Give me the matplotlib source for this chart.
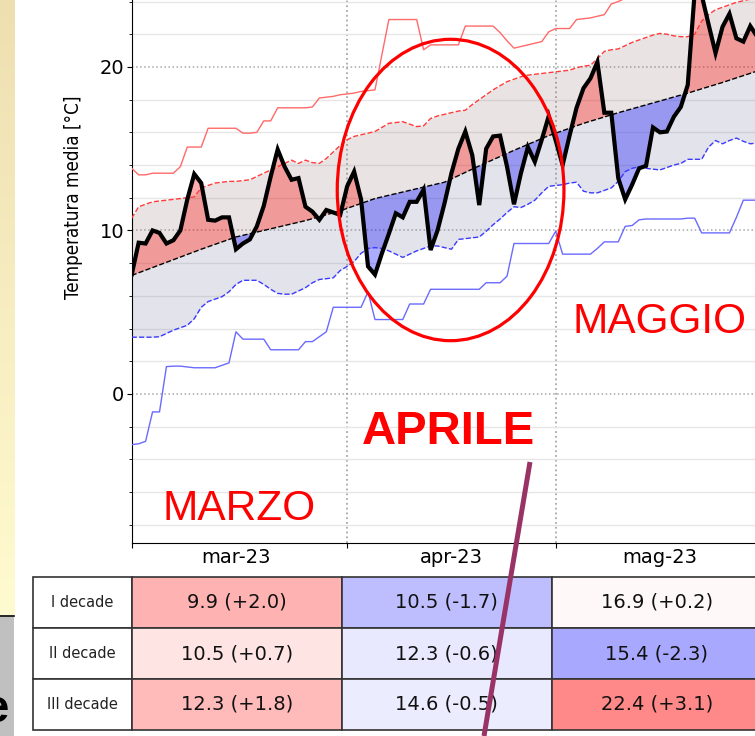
import numpy as np
import pandas as pd
import matplotlib
matplotlib.use('Agg')
from matplotlib import pyplot as plt
import matplotlib.dates as mdates
from matplotlib import font_manager
from matplotlib.ticker import MultipleLocator, NullFormatter, FuncFormatter
from matplotlib.patches import Ellipse, Rectangle
from matplotlib.lines import Line2D
from matplotlib.colors import LinearSegmentedColormap, Normalize

# daily values, 1 Mar 2023 -> 31 May 2023
days = pd.date_range('2023-03-01', '2023-05-31', freq='D')

t_obs = [7.3, 9.25, 9.2, 10.0, 9.85, 9.2, 9.4, 10.0, 11.9, 13.45, 12.9, 10.65, 10.6, 10.8, 10.8, 8.85,
         9.2, 9.45, 10.25, 11.5, 13.3, 14.95, 13.9, 13.1, 13.2, 11.45, 11.15, 10.65, 11.25, 11.1, 10.95,
         12.7, 13.6, 11.9, 7.8, 7.3, 8.6, 9.8, 11.05, 10.8, 11.75, 11.75, 12.5, 8.8, 10.0, 11.65,
         13.5, 15.0, 16.05, 14.6, 11.55, 15.0, 15.75, 15.8, 13.9, 11.6, 13.5, 15.1, 14.2, 15.55, 17.0,
         15.5, 14.0, 15.8, 17.5, 18.7, 19.3, 20.3, 17.2, 17.2, 13.2, 11.9, 12.8, 13.8, 13.95, 16.3,
         16.0, 16.05, 16.95, 17.55, 18.9, 24.6, 24.4, 22.6, 20.85, 22.45, 23.25, 21.75, 21.55, 22.5, 21.85, 22.3]

t_clim = [7.25, 7.41, 7.57, 7.73, 7.89, 8.05, 8.21, 8.37, 8.53, 8.69, 8.85, 9.0, 9.15, 9.3, 9.45, 9.6,
          9.7, 9.8, 9.9, 10.0, 10.1, 10.2, 10.3, 10.4, 10.5, 10.6, 10.72, 10.84, 10.96, 11.08, 11.2,
          11.35, 11.5, 11.65, 11.8, 11.95, 12.05, 12.15, 12.25, 12.35, 12.45, 12.55, 12.65, 12.75, 12.85, 12.95,
          13.15, 13.35, 13.55, 13.75, 13.95, 14.14, 14.33, 14.52, 14.71, 14.9, 15.08, 15.26, 15.44, 15.62, 15.8,
          15.95, 16.1, 16.25, 16.4, 16.55, 16.68, 16.81, 16.94, 17.07, 17.2, 17.32, 17.44, 17.56, 17.68, 17.8,
          17.92, 18.04, 18.16, 18.28, 18.4, 18.53, 18.66, 18.79, 18.92, 19.05, 19.19, 19.33, 19.47, 19.61, 19.75, 19.9]

t_upper = [10.75, 11.45, 11.6, 11.75, 11.8, 11.85, 11.9, 11.95, 12.0, 12.05, 12.6, 12.75, 12.9, 12.95, 13.0, 13.0,
           13.05, 13.1, 13.3, 13.5, 13.7, 13.9, 14.1, 14.3, 14.1, 14.3, 14.15, 14.1, 14.4, 14.8, 15.2,
           15.55, 15.75, 15.85, 15.95, 16.05, 16.3, 16.55, 16.6, 16.65, 16.5, 16.35, 16.4, 16.85, 17.0, 17.1,
           17.2, 17.3, 17.35, 17.7, 18.0, 18.3, 18.6, 18.85, 19.1, 19.25, 19.4, 19.5, 19.55, 19.6, 19.65,
           19.7, 19.75, 19.8, 19.95, 20.05, 20.1, 20.5, 20.95, 21.05, 21.1, 21.3, 21.5, 21.65, 21.8, 21.95,
           22.05, 22.0, 21.9, 21.85, 21.85, 22.0, 22.8, 23.2, 23.5, 23.65, 23.8, 23.95, 24.05, 24.15, 24.3, 24.45]

t_lower = [3.47, 3.47, 3.47, 3.47, 3.5, 3.7, 3.9, 4.05, 4.2, 4.6, 5.3, 5.65, 5.8, 5.95, 6.25, 6.7,
           6.95, 6.95, 6.95, 6.7, 6.4, 6.15, 6.1, 6.1, 6.3, 6.5, 6.8, 7.0, 7.05, 7.1, 7.55,
           7.8, 8.1, 8.6, 8.9, 8.95, 8.9, 8.75, 8.55, 8.35, 8.55, 8.75, 8.9, 9.05, 9.05, 8.95,
           8.85, 9.45, 9.5, 9.55, 9.6, 9.95, 10.35, 10.7, 11.1, 11.45, 11.4, 11.6, 11.85, 12.3, 12.7,
           12.75, 12.8, 12.9, 12.95, 12.4, 12.3, 12.3, 12.45, 12.6, 13.0, 13.6, 13.8, 13.9, 13.8, 13.75,
           13.7, 13.85, 14.0, 14.1, 14.35, 14.35, 14.35, 15.1, 15.5, 15.3, 15.5, 15.65, 15.45, 15.3, 15.35, 15.4]

t_max_rec = [13.8, 13.4, 13.4, 13.5, 13.5, 13.5, 13.5, 13.9, 15.1, 15.1, 15.1, 16.25, 16.25, 16.25, 16.25, 16.25,
             15.95, 15.95, 16.0, 16.7, 16.7, 17.5, 17.5, 17.5, 17.5, 17.5, 17.55, 18.1, 18.15, 18.2, 18.3,
             18.35, 18.4, 18.5, 18.55, 18.6, 20.75, 22.9, 22.9, 22.9, 22.9, 22.9, 21.05, 21.35, 21.35, 21.35,
             21.35, 21.35, 22.5, 22.5, 22.5, 22.5, 22.5, 22.1, 21.6, 21.15, 21.25, 21.35, 21.45, 21.55, 22.15,
             22.35, 22.35, 22.35, 22.9, 22.95, 23.0, 23.1, 23.2, 23.85, 24.0, 24.2, 24.5, 24.7, 24.9, 25.0,
             25.1, 25.3, 25.5, 25.6, 25.8, 26.0, 26.1, 26.3, 26.4, 26.5, 26.6, 26.8, 26.9, 27.0, 27.1, 27.2]

t_min_rec = [-3.1, -3.05, -2.9, -1.1, -1.1, 1.67, 1.7, 1.7, 1.65, 1.6, 1.6, 1.6, 1.6, 1.75, 1.9, 3.8,
             3.35, 3.35, 3.35, 3.35, 2.7, 2.7, 2.7, 2.7, 2.7, 3.2, 3.2, 3.5, 3.8, 5.3, 5.3,
             5.3, 5.3, 5.3, 6.25, 4.55, 4.55, 4.55, 4.55, 4.55, 5.5, 5.5, 5.5, 6.4, 6.4, 6.4,
             6.4, 6.4, 6.4, 6.4, 6.4, 6.8, 6.8, 6.8, 7.2, 9.2, 9.2, 9.2, 9.2, 9.2, 9.2,
             9.95, 8.55, 8.55, 8.55, 8.55, 8.55, 8.9, 9.3, 9.3, 9.3, 10.25, 10.3, 10.65, 10.7, 10.7,
             10.7, 10.7, 10.7, 10.7, 10.75, 10.75, 9.85, 9.85, 9.85, 9.85, 9.85, 10.8, 11.85, 11.85, 11.85, 11.85]

# decade table (columns: mar, apr, mag)
month_names = {3: 'mar', 4: 'apr', 5: 'mag'}
decade_labels = ['I decade', 'II decade', 'III decade']
decade_mean = [[9.9, 10.5, 12.3], [10.5, 12.3, 14.6], [16.9, 15.4, 22.4]]
decade_anom = [[2.0, 0.7, 1.8], [-1.7, -0.6, -0.5], [0.2, -2.3, 3.1]]

# narrow font for the y label, if one is around
fonts = font_manager.fontManager.ttflist
if any(f.name == 'Liberation Sans Narrow' for f in fonts):
    ylab_font = dict(family='Liberation Sans Narrow', fontsize=15)
elif any(f.name == 'DejaVu Sans' and f.stretch == 'condensed' for f in fonts):
    ylab_font = dict(family='DejaVu Sans', fontstretch='condensed', fontsize=13.5)
else:
    ylab_font = dict(family='DejaVu Sans', fontsize=12)

W, H = 755, 736
fig = plt.figure(figsize=(W / 100, H / 100), dpi=100)
fig.patch.set_facecolor('white')

ax = fig.add_axes([131.7 / W, (H - 542.7) / H, 632.5 / W, 590.2 / H])
x = mdates.date2num(days)
obs = np.array(t_obs)
clim = np.array(t_clim)
upper = np.array(t_upper)
lower = np.array(t_lower)

ax.fill_between(x, clim, upper, color=(0.6, 0.45, 0.45), alpha=0.2, lw=0, zorder=1)
ax.fill_between(x, lower, clim, color=(0.45, 0.47, 0.62), alpha=0.2, lw=0, zorder=1)
ax.fill_between(x, clim, obs, where=obs >= clim, interpolate=True, color='red', alpha=0.32, lw=0, zorder=2)
ax.fill_between(x, clim, obs, where=obs <= clim, interpolate=True, color='blue', alpha=0.33, lw=0, zorder=2)

ax.plot(x, t_max_rec, color='#ff6a6a', lw=1.0, zorder=3)
ax.plot(x, t_min_rec, color='#6a6aff', lw=1.0, zorder=3)
ax.plot(x, upper, color='#ff3b3b', lw=1.0, ls='--', zorder=3)
ax.plot(x, lower, color='#3b3bff', lw=1.0, ls='--', zorder=3)
ax.plot(x, clim, color='black', lw=1.0, ls='--', zorder=4)
ax.plot(x, obs, color='black', lw=3.0, zorder=5, solid_joinstyle='miter')

ax.set_xlim(x[0], x[-1])
ax.set_ylim(-9.1, 27)

ax.xaxis.set_major_locator(mdates.MonthLocator())
ax.xaxis.set_major_formatter(NullFormatter())
ax.xaxis.set_minor_locator(mdates.MonthLocator(bymonthday=16))
ax.xaxis.set_minor_formatter(FuncFormatter(
    lambda v, p: month_names[mdates.num2date(v).month] + mdates.num2date(v).strftime('-%y')))
ax.tick_params(axis='x', which='major', length=3.5, direction='out')
ax.tick_params(axis='x', which='minor', length=0, labelsize=14, pad=4)

ax.yaxis.set_major_locator(MultipleLocator(10))
ax.yaxis.set_minor_locator(MultipleLocator(2))
ax.tick_params(axis='y', which='major', length=3.5, labelsize=14, pad=2)
ax.tick_params(axis='y', which='minor', length=2.5)

ax.set_axisbelow(True)
ax.grid(axis='x', which='major', color='#a8a8a8', ls=':', lw=1.3)
ax.grid(axis='y', which='major', color='#a8a8a8', ls=':', lw=1.1)
ax.grid(axis='y', which='minor', color='#e6e6e6', ls='-', lw=1.0)
for s in ['top', 'right']:
    ax.spines[s].set_visible(False)

ax.set_ylabel('Temperatura media [°C]', **ylab_font)
ax.yaxis.set_label_coords((83 - 131.7) / 632.5, (542.7 - 197) / 590.2)

# decade table
tax = fig.add_axes([33 / W, 6 / H, 728.7 / W, 153 / H])
tax.set_xlim(-98.7 / 210, 3)
tax.set_ylim(3, 0)
tax.axis('off')
norm = Normalize(-6.7, 6.7)
cmap = plt.get_cmap('bwr')
for i, lab in enumerate(decade_labels):
    tax.add_patch(Rectangle((-98.7 / 210, i), 98.7 / 210, 1, fc='white', ec='#333333', lw=1.2, clip_on=False))
    tax.text(-98.7 / 420, i + 0.5, lab, ha='center', va='center', fontsize=10.5, color='#222222')
    for j in range(3):
        m = decade_mean[j][i]
        a = decade_anom[j][i]
        tax.add_patch(Rectangle((j, i), 1, 1, fc=cmap(norm(a)), ec='#333333', lw=1.2, clip_on=False))
        tax.text(j + 0.5, i + 0.5, f'{m:.1f} ({a:+.1f})', ha='center', va='center',
                 fontsize=14, color='#111111')

# slide decorations
dax = fig.add_axes([0, 121 / H, 14 / W, 615 / H])
grad = np.linspace(0, 1, 256).reshape(-1, 1)
dax.imshow(grad, aspect='auto', cmap=LinearSegmentedColormap.from_list('y', ['#eedfb0', '#fffbd0']))
dax.axis('off')
fig.add_artist(Rectangle((0, 0), 14 / W, 119 / H, transform=fig.transFigure, fc='#c0c0c0', ec='none'))
fig.add_artist(Line2D([0, 14 / W], [120 / H, 120 / H], color='black', lw=1.2))
fig.text(8 / W, (H - 722) / H, 'e', fontsize=34, weight='bold', ha='right', va='baseline',
         family='Liberation Sans')

fig.add_artist(Ellipse((450.6 / W, (H - 190) / H), 226.7 / W, 301.4 / H, transform=fig.transFigure,
                       fill=False, ec='red', lw=2.3))
fig.add_artist(Line2D([530 / W, 484 / W], [(H - 462) / H, 0], color='#993366', lw=3.6,
                      solid_capstyle='butt'))

fig.text(239 / W, (H - 520) / H, 'MARZO', color='red', fontsize=30.5, family='Liberation Sans',
         ha='center', va='baseline')
fig.text(448.5 / W, (H - 444) / H, 'APRILE', color='red', fontsize=34, weight='bold',
         family='Liberation Sans', ha='center', va='baseline')
fig.text(660 / W, (H - 333.3) / H, 'MAGGIO', color='red', fontsize=30.5, family='Liberation Sans',
         ha='center', va='baseline')

fig.savefig('out.png', dpi=100)
